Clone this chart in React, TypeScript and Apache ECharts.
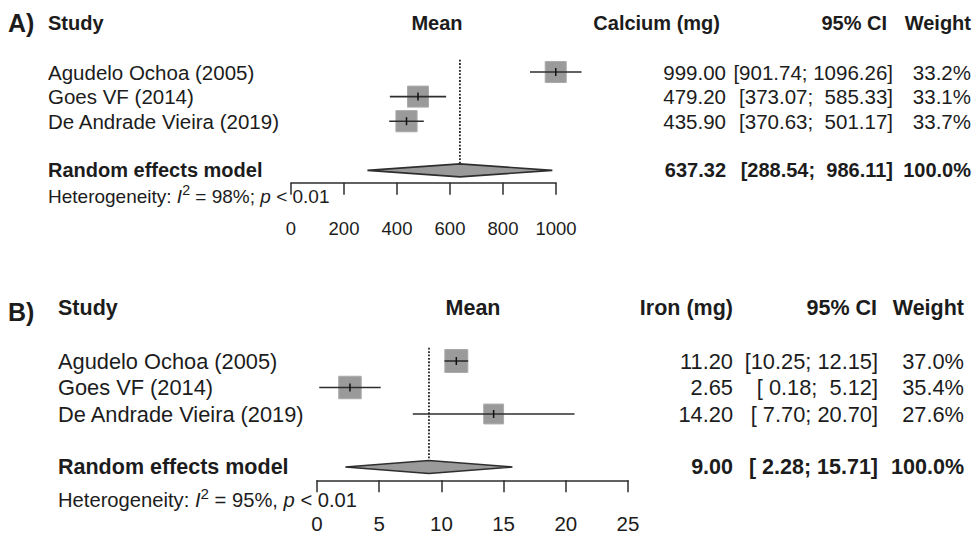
import React, { useEffect, useRef } from "react";
import * as echarts from "echarts";

// ---------- data ----------
const studies = ["Agudelo Ochoa (2005)", "Goes VF (2014)", "De Andrade Vieira (2019)"];

const calciumMean = [999.0, 479.2, 435.9];
const calciumLower = [901.74, 373.07, 370.63];
const calciumUpper = [1096.26, 585.33, 501.17];
const calciumWeight = [33.2, 33.1, 33.7];
const calciumPooled = [637.32, 288.54, 986.11]; // estimate, lower, upper
const calciumTicks = [0, 200, 400, 600, 800, 1000];
const calciumHet = { i2: "98%;", p: "< 0.01" };

const ironMean = [11.2, 2.65, 14.2];
const ironLower = [10.25, 0.18, 7.7];
const ironUpper = [12.15, 5.12, 20.7];
const ironWeight = [37.0, 35.4, 27.6];
const ironPooled = [9.0, 2.28, 15.71];
const ironTicks = [0, 5, 10, 15, 20, 25];
const ironHet = { i2: "95%,", p: "< 0.01" };

const FONT = '"Liberation Sans", Arial, Helvetica, sans-serif';
const TXT = "#1c1c1c";
const LINE = "#2e2e2e";
const BOX = "#9a9a9a";
const NBSP = "\u00a0";

type Panel = {
  label: string;
  outcome: string;
  mean: number[];
  lower: number[];
  upper: number[];
  weight: number[];
  pooled: number[];
  ticks: number[];
  het: { i2: string; p: string };
  gridLeft: number;
  gridWidth: number;
  row0: number;
  rowStep: number;
  labelX: number;
  meanHeadX: number;
  outcomeRight: number;
  meanRight: number;
  ciRight: number;
  ciHeadRight: number;
  wRight: number;
  fs: number;
  fsBold: number;
  fsTick: number;
  fsHet: number;
  hetRow: number;
  boxScale: number;
  tickMargin: number;
  panelLabelY: number;
};

const panels: Panel[] = [
  {
    label: "A)",
    outcome: "Calcium (mg)",
    mean: calciumMean,
    lower: calciumLower,
    upper: calciumUpper,
    weight: calciumWeight,
    pooled: calciumPooled,
    ticks: calciumTicks,
    het: calciumHet,
    gridLeft: 291,
    gridWidth: 265,
    row0: 72,
    rowStep: 24.6,
    labelX: 48,
    meanHeadX: 437,
    outcomeRight: 720,
    meanRight: 726,
    ciRight: 893,
    ciHeadRight: 887,
    wRight: 971,
    fs: 20.5,
    fsBold: 20,
    fsTick: 18.5,
    fsHet: 19,
    hetRow: 5.08,
    boxScale: 36.5,
    tickMargin: 36,
    panelLabelY: 23,
  },
  {
    label: "B)",
    outcome: "Iron (mg)",
    mean: ironMean,
    lower: ironLower,
    upper: ironUpper,
    weight: ironWeight,
    pooled: ironPooled,
    ticks: ironTicks,
    het: ironHet,
    gridLeft: 317,
    gridWidth: 311,
    row0: 361,
    rowStep: 26.5,
    labelX: 58,
    meanHeadX: 473,
    outcomeRight: 733,
    meanRight: 733,
    ciRight: 878,
    ciHeadRight: 877,
    wRight: 964,
    fs: 21.8,
    fsBold: 21.5,
    fsTick: 20.5,
    fsHet: 20.2,
    hetRow: 5.24,
    boxScale: 37.8,
    tickMargin: 33,
    panelLabelY: 312,
  },
];

const ROW_MIN = -2;
const ROW_MAX = 4.5;
const MODEL_ROW = 4;

function fmt(v: number) {
  return v.toFixed(2);
}

function padTo(s: string, w: number) {
  while (s.length < w) s = NBSP + s;
  return s;
}

function ciText(lo: number, hi: number, loW: number, hiW: number) {
  return "[" + padTo(fmt(lo), loW) + ";" + NBSP + padTo(fmt(hi), hiW) + "]";
}

function textEl(x: number, y: number, text: string, fs: number, align: string, bold = false, extra: any = {}) {
  return {
    type: "text",
    x,
    y,
    silent: true,
    style: {
      text,
      fill: TXT,
      fontSize: fs,
      fontFamily: FONT,
      fontWeight: bold ? "bold" : "normal",
      align,
      textAlign: align,
      verticalAlign: "middle",
      textVerticalAlign: "middle",
      ...extra,
    },
  };
}

function buildOption() {
  const grids: any[] = [];
  const xAxes: any[] = [];
  const yAxes: any[] = [];
  const series: any[] = [];
  const graphics: any[] = [];

  panels.forEach((p, pi) => {
    const top = p.row0 + ROW_MIN * p.rowStep;
    const height = (ROW_MAX - ROW_MIN) * p.rowStep;
    grids.push({ left: p.gridLeft, top, width: p.gridWidth, height, containLabel: false });
    const tMin = p.ticks[0];
    const tMax = p.ticks[p.ticks.length - 1];
    xAxes.push({
      gridIndex: pi,
      type: "value",
      min: tMin,
      max: tMax,
      interval: p.ticks[1] - p.ticks[0],
      position: "bottom",
      axisLine: { show: true, onZero: false, lineStyle: { color: LINE, width: 1.5 } },
      axisTick: { show: true, length: 12, lineStyle: { color: LINE, width: 1.5 } },
      splitLine: { show: false },
      axisLabel: {
        show: true,
        margin: p.tickMargin,
        color: TXT,
        fontSize: p.fsTick,
        fontFamily: FONT,
        formatter: (v: number) => String(v),
      },
    });
    yAxes.push({
      gridIndex: pi,
      type: "value",
      min: ROW_MIN,
      max: ROW_MAX,
      inverse: true,
      show: false,
    });

    const loW = Math.max(...[...p.lower, p.pooled[1]].map((v) => fmt(v).length));
    const hiW = Math.max(...[...p.upper, p.pooled[2]].map((v) => fmt(v).length));

    // studies
    series.push({
      type: "custom",
      xAxisIndex: pi,
      yAxisIndex: pi,
      clip: false,
      silent: true,
      encode: { x: [0, 1, 2], y: 4 },
      data: studies.map((_, i) => [p.mean[i], p.lower[i], p.upper[i], p.weight[i], i]),
      renderItem: (params: any, api: any) => {
        const i = params.dataIndex;
        const m = api.value(0);
        const lo = api.value(1);
        const hi = api.value(2);
        const w = api.value(3);
        const r = api.value(4);
        const c = api.coord([m, r]);
        const pl = api.coord([lo, r]);
        const ph = api.coord([hi, r]);
        const side = p.boxScale * Math.sqrt(w / 100);
        const y = c[1];
        return {
          type: "group",
          children: [
            {
              type: "rect",
              shape: { x: c[0] - side / 2, y: y - side / 2, width: side, height: side },
              style: { fill: BOX, stroke: "#aaaaaa", lineWidth: 1 },
            },
            {
              type: "line",
              shape: { x1: pl[0], y1: y, x2: ph[0], y2: y },
              style: { stroke: LINE, lineWidth: 1.6 },
            },
            {
              type: "line",
              shape: { x1: c[0], y1: y - 4, x2: c[0], y2: y + 4 },
              style: { stroke: "#111", lineWidth: 1.5 },
            },
            textEl(p.labelX, y, studies[i], p.fs, "left"),
            textEl(p.meanRight, y, fmt(m), p.fs, "right"),
            textEl(p.ciRight, y, ciText(lo, hi, loW, hiW), p.fs, "right"),
            textEl(p.wRight, y, w.toFixed(1) + "%", p.fs, "right"),
          ],
        };
      },
    });

    // random effects model
    series.push({
      type: "custom",
      xAxisIndex: pi,
      yAxisIndex: pi,
      clip: false,
      silent: true,
      encode: { x: [0, 1, 2], y: 3 },
      data: [[p.pooled[0], p.pooled[1], p.pooled[2], MODEL_ROW]],
      renderItem: (params: any, api: any) => {
        const est = api.value(0);
        const lo = api.value(1);
        const hi = api.value(2);
        const r = api.value(3);
        const c = api.coord([est, r]);
        const pl = api.coord([lo, r]);
        const ph = api.coord([hi, r]);
        const topY = api.coord([est, -0.5])[1];
        const y = c[1];
        const hh = 6.5;
        const totalW = p.weight.reduce((a, b) => a + b, 0);
        return {
          type: "group",
          children: [
            {
              type: "line",
              shape: { x1: c[0], y1: topY, x2: c[0], y2: y - hh },
              style: { stroke: "#222", lineWidth: 1.8, lineDash: [1.8, 1.6] },
            },
            {
              type: "polygon",
              shape: {
                points: [
                  [pl[0], y],
                  [c[0], y - hh],
                  [ph[0], y],
                  [c[0], y + hh],
                ],
              },
              style: { fill: BOX, stroke: LINE, lineWidth: 1.6 },
            },
            textEl(p.labelX, y, "Random effects model", p.fsBold, "left", true),
            textEl(p.meanRight, y, fmt(est), p.fsBold, "right", true),
            textEl(p.ciRight, y, ciText(lo, hi, loW, hiW), p.fsBold, "right", true),
            textEl(p.wRight, y, Math.round(totalW).toFixed(1) + "%", p.fsBold, "right", true),
          ],
        };
      },
    });

    // headers
    const hy = p.row0 + ROW_MIN * p.rowStep;
    graphics.push(textEl(8, p.panelLabelY, p.label, 25, "left", true));
    graphics.push(textEl(p.labelX, hy, "Study", p.fsBold, "left", true));
    graphics.push(textEl(p.meanHeadX, hy, "Mean", p.fsBold, "center", true));
    graphics.push(textEl(p.outcomeRight, hy, p.outcome, p.fsBold, "right", true));
    graphics.push(textEl(p.ciHeadRight, hy, "95% CI", p.fsBold, "right", true));
    graphics.push(textEl(p.wRight, hy, "Weight", p.fsBold, "right", true));

    // heterogeneity
    const hetY = p.row0 + p.hetRow * p.rowStep;
    const base = { fontSize: p.fsHet, fontFamily: FONT, fill: TXT, lineHeight: 28 };
    graphics.push({
      type: "text",
      x: p.labelX,
      y: hetY,
      silent: true,
      style: {
        text:
          "{n|Heterogeneity: }{i|I}{s|2}{n| = " +
          p.het.i2 +
          " }{i|p}{n| " +
          p.het.p +
          "}",
        fill: TXT,
        fontFamily: FONT,
        fontSize: p.fsHet,
        align: "left",
        textAlign: "left",
        verticalAlign: "middle",
        textVerticalAlign: "middle",
        rich: {
          n: { ...base },
          i: { ...base, fontStyle: "italic" },
          s: { fontSize: p.fsHet * 0.75, fontFamily: FONT, fill: TXT, lineHeight: 16, verticalAlign: "top" },
        },
      },
    });
  });

  return {
    animation: false,
    backgroundColor: "#ffffff",
    grid: grids,
    xAxis: xAxes,
    yAxis: yAxes,
    series,
    graphic: graphics,
  };
}

export default function App() {
  const ref = useRef<HTMLDivElement>(null);
  useEffect(() => {
    if (!ref.current) return;
    const chart = echarts.init(ref.current, undefined, { renderer: "svg" });
    chart.setOption(buildOption() as any);
    return () => chart.dispose();
  }, []);
  return (
    <div
      ref={ref}
      style={{ position: "absolute", left: 0, top: 0, width: 980, height: 537, background: "#fff" }}
    />
  );
}
